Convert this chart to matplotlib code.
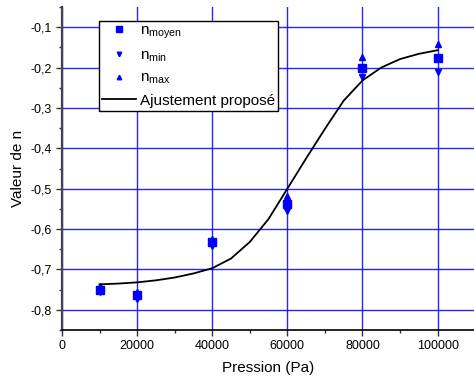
import matplotlib
matplotlib.use("Agg")
import matplotlib.pyplot as plt
from matplotlib.ticker import MultipleLocator, FuncFormatter

plt.rcParams["font.family"] = ["Liberation Sans", "DejaVu Sans"]
plt.rcParams["mathtext.fontset"] = "custom"
plt.rcParams["mathtext.rm"] = "Liberation Sans"
plt.rcParams["mathtext.it"] = "Liberation Sans"

# mesures
pression = [10000, 20000, 40000, 60000, 80000, 100000]
n_moyen = [-0.750, -0.764, -0.633, -0.539, -0.200, -0.177]
n_min = [-0.757, -0.772, -0.641, -0.555, -0.224, -0.210]
n_max = [-0.742, -0.756, -0.625, -0.518, -0.175, -0.142]

# courbe d'ajustement
fit_x = [10000, 15000, 20000, 25000, 30000, 35000, 40000, 45000, 50000, 55000,
         60000, 65000, 70000, 75000, 80000, 85000, 90000, 95000, 100000]
fit_y = [-0.737, -0.735, -0.732, -0.727, -0.720, -0.710, -0.697, -0.673, -0.632,
         -0.575, -0.500, -0.425, -0.352, -0.282, -0.232, -0.200, -0.179, -0.166, -0.157]

blue = "#0000ff"

fig = plt.figure(figsize=(4.74, 3.83), dpi=100)
ax = fig.add_axes([62 / 474, 1 - 330 / 383, 1 - 62 / 474, (330 - 7) / 383])

ax.grid(True, color=blue, linewidth=1.0, alpha=0.85)
ax.set_axisbelow(True)

ax.plot(pression, n_moyen, "s", color=blue, markersize=6, label=r"n$_{\mathrm{moyen}}$", zorder=3)
ax.plot(pression, n_min, "v", color=blue, markersize=5, label=r"n$_{\mathrm{min}}$", zorder=3)
ax.plot(pression, n_max, "^", color=blue, markersize=5, label=r"n$_{\mathrm{max}}$", zorder=3)
ax.plot(fit_x, fit_y, "-", color="black", linewidth=1.3, label="Ajustement proposé", zorder=4)

ax.set_xlim(0, 109700)
ax.set_ylim(-0.85, -0.05)
ax.xaxis.set_major_locator(MultipleLocator(20000))
ax.xaxis.set_minor_locator(MultipleLocator(10000))
ax.yaxis.set_major_locator(MultipleLocator(0.1))
ax.yaxis.set_minor_locator(MultipleLocator(0.05))
ax.yaxis.set_major_formatter(FuncFormatter(lambda v, p: f"{v:.1f}".replace(".", ",")))

ax.spines["top"].set_visible(False)
ax.spines["right"].set_visible(False)
ax.spines["left"].set_color("#444444")
ax.spines["left"].set_linewidth(1.6)
ax.spines["bottom"].set_linewidth(1.2)
ax.tick_params(which="major", direction="out", length=4, width=1, labelsize=9, colors="#333333",
               labelcolor="black")
ax.tick_params(which="minor", direction="out", length=2.5, width=1, colors="#333333")

ax.set_xlabel("Pression (Pa)", fontsize=11, labelpad=6)
ax.set_ylabel("Valeur de n", fontsize=11, labelpad=4)

leg = ax.legend(loc="upper left", bbox_to_anchor=(99 / 474, 1 - 20.5 / 383),
                bbox_transform=fig.transFigure, fontsize=11, frameon=True, fancybox=False,
                markerscale=0.65, handlelength=2.2, handletextpad=0.3, borderpad=0.2,
                borderaxespad=0, labelspacing=0.48)
leg.get_frame().set_edgecolor("black")
leg.get_frame().set_linewidth(1.0)
leg.get_frame().set_alpha(1)

fig.savefig("out.png", dpi=100)
